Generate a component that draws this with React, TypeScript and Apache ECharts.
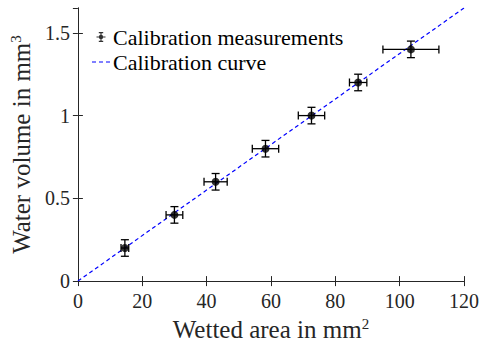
import React, { useEffect, useRef } from "react";
import * as echarts from "echarts";

// Data
const wettedArea = [14.6, 30.0, 42.8, 58.3, 72.6, 87.1, 103.5];
const waterVolume = [0.2, 0.4, 0.6, 0.8, 1.0, 1.2, 1.4];
const areaError = [1.2, 2.6, 3.6, 4.1, 4.1, 2.7, 8.7];
const volumeError = [0.05, 0.05, 0.05, 0.05, 0.05, 0.05, 0.05];
const curveArea = [0, 120];
const curveVolume = [0, 1.65];
const xTicks = [0, 20, 40, 60, 80, 100, 120];
const yTicks = [0, 0.5, 1, 1.5];
const legendLabels = ["Calibration measurements", "Calibration curve"];

const FONT = "Liberation Serif";
const AX = "#262626";

// legend icons, drawn in an 18 x 12 box (tiny corner squares fix the box)
const corners = "M0 0h0.01v0.01h-0.01Z M17.99 11.99h0.01v0.01h-0.01Z ";
const errIcon =
  "path://" +
  corners +
  "M4.5 5.4h9v1.2h-9Z M8.4 1h1.2v10h-1.2Z M6.8 1h4.4v1.2h-4.4Z M6.8 9.8h4.4v1.2h-4.4Z " +
  "M6.8 6a2.2 2.2 0 1 1 4.4 0a2.2 2.2 0 1 1 -4.4 0Z";
const dashIcon = "path://" + corners + "M0 5.4h4v1.2h-4Z M7 5.4h4v1.2h-4Z M14 5.4h4v1.2h-4Z";

export default function App() {
  const ref = useRef<HTMLDivElement>(null);
  useEffect(() => {
    if (!ref.current) return;
    const chart = echarts.init(ref.current, undefined, { renderer: "svg" });
    const errData = wettedArea.map((x, i) => [x, waterVolume[i], areaError[i], volumeError[i]]);
    const ptData = wettedArea.map((x, i) => [x, waterVolume[i]]);
    const curveData = curveArea.map((x, i) => [x, curveVolume[i]]);
    const xMin = xTicks[0];
    const xMax = xTicks[xTicks.length - 1];
    const axisCommon = {
      axisLine: { show: true, lineStyle: { color: AX, width: 1 } },
      axisTick: { show: true, inside: true, length: 5, lineStyle: { color: AX, width: 1 } },
      splitLine: { show: false },
    };
    const supStyle = { fontSize: 15, verticalAlign: "top", padding: [0, 0, 12, 0], fontFamily: FONT, color: AX };
    const option: any = {
      animation: false,
      backgroundColor: "#ffffff",
      textStyle: { fontFamily: FONT },
      grid: { left: 77, right: 17, top: 8, bottom: 61, containLabel: false },
      legend: {
        orient: "vertical",
        left: 92,
        top: 26,
        itemWidth: 18,
        itemHeight: 12,
        itemGap: 3,
        padding: 0,
        selectedMode: false,
        textStyle: { fontFamily: FONT, fontSize: 22, lineHeight: 22, color: "#000", padding: [0, 0, 0, -2] },
        data: [
          { name: legendLabels[0], icon: errIcon, itemStyle: { color: "#000000", borderWidth: 0 } },
          { name: legendLabels[1], icon: dashIcon, itemStyle: { color: "#0000ff", borderWidth: 0 }, lineStyle: { width: 0 } },
        ],
      },
      xAxis: [
        {
          type: "value",
          min: xMin,
          max: xMax,
          interval: 20,
          position: "bottom",
          ...axisCommon,
          axisLabel: {
            show: true,
            margin: 10,
            color: AX,
            fontFamily: FONT,
            fontSize: 20,
            formatter: (v: number) => (xTicks.includes(v) ? String(v) : ""),
          },
          name: "Wetted area in mm{sup|2}",
          nameLocation: "middle",
          nameGap: 34,
          nameTextStyle: { color: AX, fontFamily: FONT, fontSize: 25, rich: { sup: supStyle } },
        },
        {
          type: "value",
          min: xMin,
          max: xMax,
          interval: 20,
          position: "top",
          ...axisCommon,
          axisLabel: { show: false },
        },
      ],
      yAxis: [
        {
          type: "value",
          min: 0,
          max: 1.65,
          interval: 0.5,
          position: "left",
          ...axisCommon,
          axisLabel: {
            show: true,
            margin: 8,
            color: AX,
            fontFamily: FONT,
            fontSize: 20,
            showMaxLabel: false,
            formatter: (v: number) => (yTicks.includes(v) ? String(v) : ""),
          },
          name: "Water volume in mm{sup|3}",
          nameLocation: "middle",
          nameGap: 30,
          nameRotate: 90,
          nameTextStyle: { color: AX, fontFamily: FONT, fontSize: 25, rich: { sup: supStyle } },
        },
        {
          type: "value",
          min: 0,
          max: 1.65,
          interval: 0.5,
          position: "right",
          ...axisCommon,
          axisLabel: { show: false },
        },
      ],
      series: [
        {
          name: legendLabels[1],
          type: "line",
          data: curveData,
          showSymbol: false,
          symbol: "none",
          itemStyle: { color: "#0000ff" },
          lineStyle: { color: "#0000ff", width: 1.2, type: [4, 3] },
          z: 3,
        },
        {
          name: "errors",
          type: "custom",
          data: errData,
          z: 4,
          renderItem: (params: any, api: any) => {
            const x = api.value(0);
            const y = api.value(1);
            const ex = api.value(2);
            const ey = api.value(3);
            const l = api.coord([x - ex, y]);
            const r = api.coord([x + ex, y]);
            const t = api.coord([x, y + ey]);
            const b = api.coord([x, y - ey]);
            const cap = 4;
            const st = { stroke: "#000000", lineWidth: 1.3 };
            const ln = (x1: number, y1: number, x2: number, y2: number) => ({
              type: "line",
              shape: { x1, y1, x2, y2 },
              style: st,
            });
            return {
              type: "group",
              children: [
                ln(l[0], l[1], r[0], r[1]),
                ln(l[0], l[1] - cap, l[0], l[1] + cap),
                ln(r[0], r[1] - cap, r[0], r[1] + cap),
                ln(t[0], t[1], b[0], b[1]),
                ln(t[0] - cap, t[1], t[0] + cap, t[1]),
                ln(b[0] - cap, b[1], b[0] + cap, b[1]),
              ],
            };
          },
        },
        {
          name: legendLabels[0],
          type: "scatter",
          data: ptData,
          symbol: "circle",
          symbolSize: 8,
          itemStyle: { color: "#000000" },
          z: 5,
        },
      ],
    };
    chart.setOption(option);
    return () => chart.dispose();
  }, []);
  return <div ref={ref} style={{ width: 482, height: 347, position: "absolute", left: 0, top: 0 }} />;
}
